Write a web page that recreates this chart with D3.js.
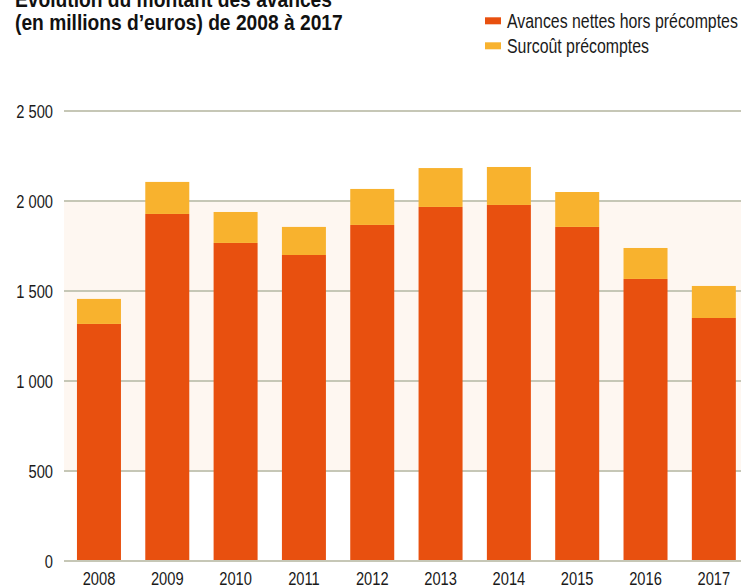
<!DOCTYPE html>
<html>
<head>
<meta charset="utf-8">
<script src="https://cdn.jsdelivr.net/npm/d3@7"></script>
<style>
  html, body { margin: 0; padding: 0; background: #ffffff; }
  svg { display: block; }
  text { font-family: "Liberation Sans", Arial, sans-serif; fill: #1a1a1a; }
</style>
</head>
<body>
<svg id="chart" width="741" height="585"></svg>
<script>
// Years and the two stacked components (millions d'euros)
const years = ["2008", "2009", "2010", "2011", "2012", "2013", "2014", "2015", "2016", "2017"];
const avancesNettes = [1317, 1928, 1767, 1700, 1867, 1967, 1978, 1856, 1567, 1350];
const surcout = [139, 178, 172, 156, 200, 216, 211, 194, 172, 178];
const yTicks = [0, 500, 1000, 1500, 2000, 2500];
const seriesNames = ["Avances nettes hors précomptes", "Surcoût précomptes"];
const seriesColors = ["#e8500f", "#f8b22e"];
const bandRange = [500, 2000];

const svg = d3.select("#chart");

// Condensed look: horizontally squeeze text around its anchor point
const COND = 0.79;
function place(sel, xf, yf, sx = COND) {
  return sel.attr("transform", (d, i) => `translate(${xf(d, i)},${yf(d, i)}) scale(${sx},1)`);
}

const x = d3.scaleBand()
  .domain(years)
  .range([64.8, 748])
  .paddingInner(0.356)
  .paddingOuter(0.178);

const y = d3.scaleLinear().domain([0, 2500]).range([561, 111]);

const plotLeft = 64;
const plotRight = 760;

// Shaded band behind the bars
svg.append("rect")
  .attr("x", plotLeft)
  .attr("y", y(bandRange[1]))
  .attr("width", plotRight - plotLeft)
  .attr("height", y(bandRange[0]) - y(bandRange[1]))
  .attr("fill", "#fef7f1");

// Horizontal grid lines
svg.append("g")
  .selectAll("line")
  .data(yTicks)
  .join("line")
  .attr("x1", plotLeft)
  .attr("x2", plotRight)
  .attr("y1", d => y(d))
  .attr("y2", d => y(d))
  .attr("stroke", "#c6c7b6")
  .attr("stroke-width", 2);

// Y axis labels (French thousands separator)
const fmt = d => d >= 1000 ? String(d).replace(/(\d)(\d{3})$/, "$1 $2") : String(d);
place(
  svg.append("g")
    .selectAll("text")
    .data(yTicks)
    .join("text")
    .attr("text-anchor", "end")
    .attr("font-size", 18.6)
    .text(fmt),
  () => 53, d => y(d) + 7
);

// Stacked bars
const rows = years.map((yr, i) => ({ year: yr, a: avancesNettes[i], b: surcout[i] }));
const stack = d3.stack().keys(["a", "b"])(rows);

svg.append("g")
  .selectAll("g")
  .data(stack)
  .join("g")
  .attr("fill", (d, i) => seriesColors[i])
  .selectAll("rect")
  .data(d => d)
  .join("rect")
  .attr("x", d => x(d.data.year))
  .attr("width", x.bandwidth())
  .attr("y", d => y(d[1]))
  .attr("height", d => y(d[0]) - y(d[1]));

// Baseline drawn over the bars
svg.append("line")
  .attr("x1", plotLeft).attr("x2", plotRight)
  .attr("y1", y(0)).attr("y2", y(0))
  .attr("stroke", "#c6c7b6").attr("stroke-width", 2);

// X axis labels
place(
  svg.append("g")
    .selectAll("text")
    .data(years)
    .join("text")
    .attr("text-anchor", "middle")
    .attr("font-size", 18.6)
    .text(d => d),
  d => x(d) + x.bandwidth() / 2, () => 585
);

// Title, fitted to its line width
const titleLines = ["Évolution du montant des avances", "(en millions d’euros) de 2008 à 2017"];
const titleSel = svg.append("g")
  .selectAll("text")
  .data(titleLines)
  .join("text")
  .attr("font-size", 22.5)
  .attr("font-weight", "bold")
  .style("fill", "#111")
  .text(d => d);
const natural = titleSel.nodes()[1].getComputedTextLength();
const titleScale = 328 / natural;
place(titleSel, () => 15, (d, i) => 6.5 + i * 23, titleScale);

// Legend
const legend = svg.append("g");
seriesNames.forEach((name, i) => {
  const ly = 28.3 + i * 25;
  legend.append("rect")
    .attr("x", 485).attr("y", ly - 11)
    .attr("width", 16).attr("height", 7)
    .attr("fill", seriesColors[i]);
  const t = legend.append("text")
    .attr("font-size", 19.5)
    .text(name);
  t.attr("transform", `translate(507,${ly}) scale(0.815,1)`);
});
</script>
</body>
</html>
